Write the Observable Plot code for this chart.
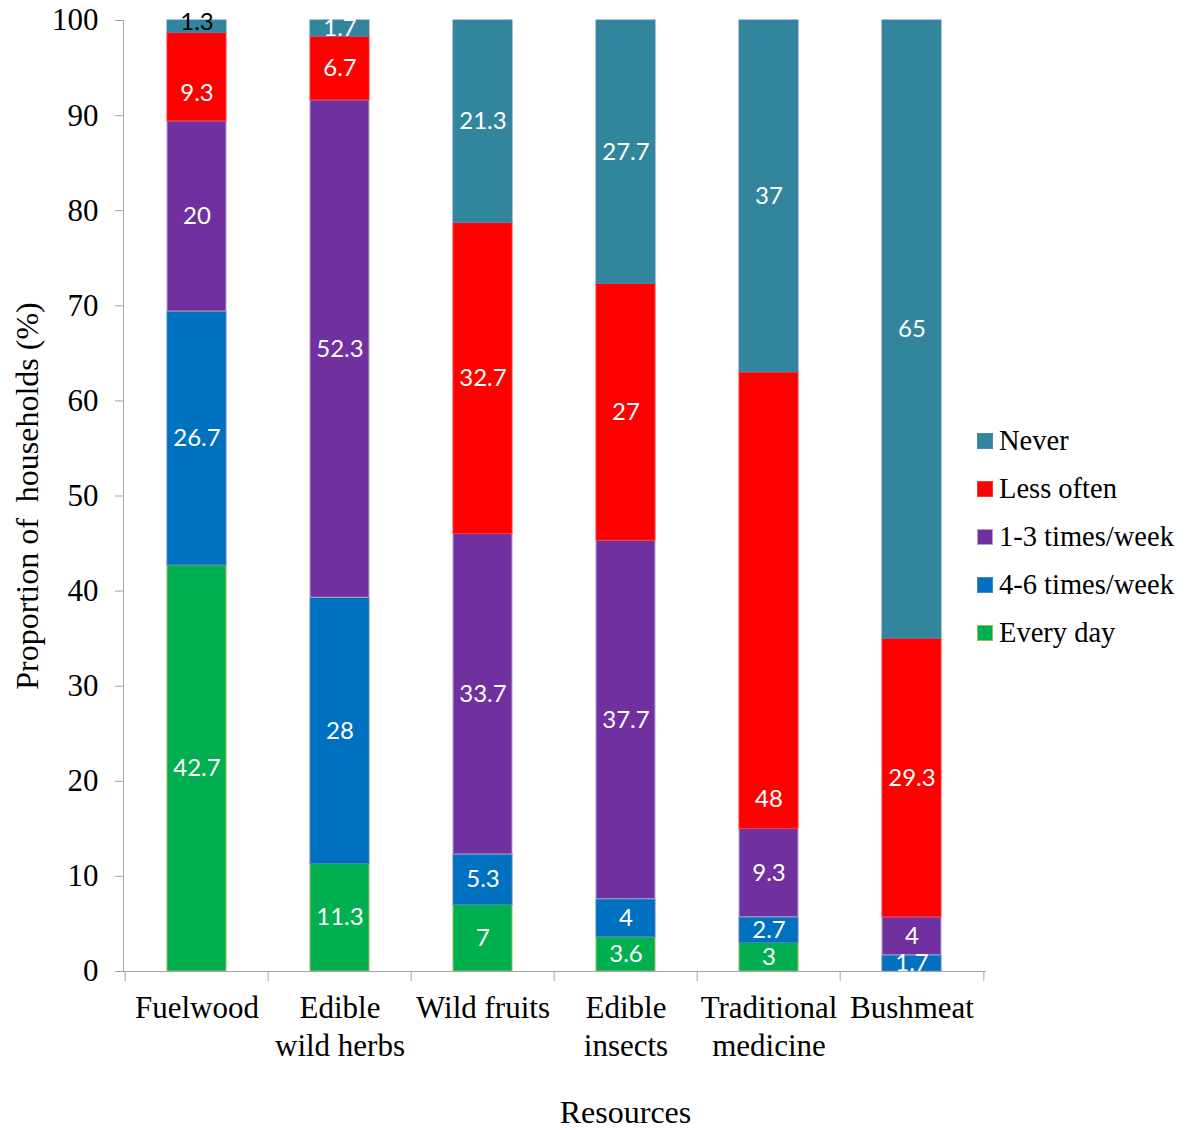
<!DOCTYPE html>
<html>
<head>
<meta charset="utf-8">
<script src="https://cdn.jsdelivr.net/npm/d3@7"></script>
<script src="https://cdn.jsdelivr.net/npm/@observablehq/plot@0.6"></script>
<style>
  body { margin: 0; background: #fff; }
  #wrap { position: relative; width: 1186px; height: 1130px; }
  #legend { position: absolute; left: 977px; top: 417px; font-family: "Liberation Serif", "Times New Roman", serif; font-size: 28.5px; color: #000; }
  #legend .item { display: flex; align-items: center; height: 48px; white-space: nowrap; }
  #legend .sw { width: 16px; height: 16px; margin-right: 6px; box-sizing: border-box; border: 1px solid; }
</style>
</head>
<body>
<div id="wrap"><div id="legend"></div></div>
<script>
// Resource categories and how often households use them (% of households)
const categories = ["Fuelwood", "Edible wild herbs", "Wild fruits", "Edible insects", "Traditional medicine", "Bushmeat"];
const categoryLabels = ["Fuelwood", "Edible\nwild herbs", "Wild fruits", "Edible\ninsects", "Traditional\nmedicine", "Bushmeat"];

// Stack order, bottom to top
const series = ["Every day", "4-6 times/week", "1-3 times/week", "Less often", "Never"];
const everyDay     = [42.7, 11.3, 7, 3.6, 3, 0];
const fourToSix    = [26.7, 28, 5.3, 4, 2.7, 1.7];
const oneToThree   = [20, 52.3, 33.7, 37.7, 9.3, 4];
const lessOften    = [9.3, 6.7, 32.7, 27, 48, 29.3];
const never        = [1.3, 1.7, 21.3, 27.7, 37, 65];
const seriesValues = [everyDay, fourToSix, oneToThree, lessOften, never];

const yTicks = [0, 10, 20, 30, 40, 50, 60, 70, 80, 90, 100];

const fills   = {"Every day": "#00B050", "4-6 times/week": "#0070C0", "1-3 times/week": "#7030A0", "Less often": "#FF0000", "Never": "#31859C"};
const strokes = {"Every day": "#9bbb59", "4-6 times/week": "#4f81bd", "1-3 times/week": "#b3a2c7", "Less often": "#ff3333", "Never": "#4f81bd"};

// Build stacked rows with cumulative bounds
const rows = [];
categories.forEach((c, i) => {
  let base = 0;
  series.forEach((s, j) => {
    const v = seriesValues[j][i];
    rows.push({category: c, series: s, value: v, y1: base, y2: base + v});
    base += v;
  });
});
const shown = rows.filter(d => d.value > 0);

// Labels sit mid-segment; a few are nudged within their segment to stay clear of neighbours
const labelFraction = {
  "Fuelwood|Never": 0.85,
  "Fuelwood|Less often": 0.32,
  "Traditional medicine|Less often": 0.065
};
const labelY = d => d.y1 + d.value * (labelFraction[d.category + "|" + d.series] ?? 0.5);
const labelFill = d => (d.category === "Fuelwood" && d.series === "Never") ? "#000" : "#fff";

const W = 1186, H = 1130, ML = 123, MR = 201, MT = 20, MB = 159;
const step = (W - ML - MR) / categories.length;
const axisGray = "#a6a6a6";
const serif = "'Liberation Serif', 'Times New Roman', serif";

const chart = Plot.plot({
  width: W, height: H,
  marginLeft: ML, marginRight: MR, marginTop: MT, marginBottom: MB,
  style: {fontFamily: serif, background: "white", color: "#000"},
  x: {domain: categories, paddingInner: 0.59, paddingOuter: 0.295, axis: null},
  y: {domain: [0, 100], axis: null},
  marks: [
    ...series.map(s => Plot.barY(shown.filter(d => d.series === s), {
      x: "category", y1: "y1", y2: "y2", fill: fills[s], stroke: strokes[s], strokeWidth: 1
    })),
    Plot.frame({anchor: "left", stroke: axisGray}),
    Plot.frame({anchor: "bottom", stroke: axisGray}),
    Plot.axisY(yTicks, {tickSize: 8, tickPadding: 17, fontSize: 31, fontFamily: serif, stroke: axisGray, fill: "#000", label: null}),
    // category boundary ticks under the x axis
    Plot.ruleX(categories, {x: d => d, y1: 0, y2: 0, dx: -step / 2, insetBottom: -10, stroke: axisGray}),
    Plot.ruleX([categories[categories.length - 1]], {x: d => d, y1: 0, y2: 0, dx: step / 2, insetBottom: -10, stroke: axisGray}),
    Plot.text(categories, {
      x: d => d, text: (d, i) => categoryLabels[i], frameAnchor: "bottom", lineAnchor: "top",
      dy: 19, fontSize: 31, lineHeight: 1.23, fontFamily: serif, fill: "#000"
    }),
    Plot.text(shown, {
      x: "category", y: labelY, text: d => String(d.value), fill: labelFill,
      fontSize: 24, fontFamily: "Lato, 'Open Sans', sans-serif"
    }),
    Plot.text(["Proportion of\u00a0 households (%)"], {
      frameAnchor: "left", textAnchor: "middle", dx: -96, rotate: -90, fontSize: 32, fontFamily: serif, fill: "#000"
    }),
    Plot.text(["Resources"], {frameAnchor: "bottom", dx: 71, dy: 151, fontSize: 32, fontFamily: serif, fill: "#000"})
  ]
});

const wrap = document.getElementById("wrap");
wrap.insertBefore(chart, wrap.firstChild);

// Legend, top entry is the top of the stack
const legend = document.getElementById("legend");
series.slice().reverse().forEach(s => {
  const item = document.createElement("div");
  item.className = "item";
  const sw = document.createElement("span");
  sw.className = "sw";
  sw.style.background = fills[s];
  sw.style.borderColor = strokes[s];
  const label = document.createElement("span");
  label.textContent = s;
  item.appendChild(sw);
  item.appendChild(label);
  legend.appendChild(item);
});
</script>
</body>
</html>
